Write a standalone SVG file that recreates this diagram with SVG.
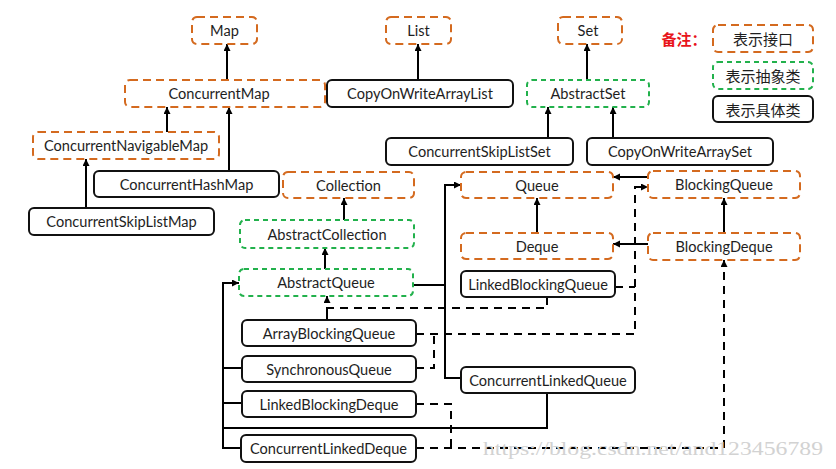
<svg xmlns="http://www.w3.org/2000/svg" width="836" height="469" viewBox="0 0 836 469">
<defs>
<marker id="ah" markerUnits="userSpaceOnUse" markerWidth="8" markerHeight="8" refX="7" refY="3.5" orient="auto">
<path d="M0,0 L7,3.5 L0,7 z" fill="#000"/>
</marker>
</defs>
<style>
rect{stroke-width:2;fill:#fff}
.i{stroke:#D46A1F;stroke-dasharray:8 5}
.a{stroke:#22B14C;stroke-dasharray:5 4}
.c{stroke:#111}
text{font-family:Lato,"Open Sans","Noto Sans",sans-serif;font-size:14.6px;fill:#1e1e1e;text-anchor:middle;dominant-baseline:central}
.cjk{font-family:"Noto Sans CJK SC",sans-serif;font-size:15px}
.s{fill:none;stroke:#000;stroke-width:2}
.d{fill:none;stroke:#000;stroke-width:2;stroke-dasharray:8 6}
.m{marker-end:url(#ah)}
</style>
<rect width="836" height="469" fill="#fff" stroke="none"/>
<g id="connectors">
<path class="s m" d="M227,80 V44"/>
<path class="s m" d="M167,132 V107"/>
<path class="s m" d="M229,171 V107"/>
<path class="s m" d="M86,208 V159"/>
<path class="s m" d="M418,80 V44"/>
<path class="s m" d="M587,80 V44"/>
<path class="s m" d="M548,138 V107"/>
<path class="s m" d="M613,138 V107"/>
<path class="s m" d="M344,220 V198"/>
<path class="s m" d="M325,269 V248"/>
<path class="s m" d="M537,233 V198"/>
<path class="s m" d="M724,233 V198"/>
<path class="s m" d="M648,177 H613"/>
<path class="s m" d="M648,244 H613"/>
<path class="s" d="M413,285 H445"/>
<path class="s m" d="M461,378 H445 V185 H461"/>
<path class="s" d="M547,393 V428 H223"/>
<path class="s m" d="M241,448 H223 V283 H239"/>
<path class="s" d="M223,368 H242 M223,403 H242"/>
<path class="s" d="M327,320 V308"/>
<path class="d m" d="M547,297 V308 H327 V296"/>
<path class="d m" d="M416,334 H635 V187 H648"/>
<path class="d" d="M615,287 H635"/>
<path class="d" d="M416,368 H434 V334"/>
<path class="d" d="M416,404 H451 V448"/>
<path class="d m" d="M416,448 H724 V260"/>
</g>
<g id="n-map"><rect class="i" x="192" y="17" width="65" height="27" rx="5"/><text x="224.5" y="30.5">Map</text></g>
<g id="n-concurrentmap"><rect class="i" x="125" y="80" width="200" height="27" rx="5"/><text x="219" y="93.5">ConcurrentMap</text></g>
<g id="n-concurrentnavigablemap"><rect class="i" x="33" y="132" width="186" height="27" rx="5"/><text x="126" y="145.5">ConcurrentNavigableMap</text></g>
<g id="n-concurrenthashmap"><rect class="c" x="94" y="171" width="185" height="26" rx="5"/><text x="186.5" y="184">ConcurrentHashMap</text></g>
<g id="n-concurrentskiplistmap"><rect class="c" x="29" y="208" width="185" height="27" rx="5"/><text x="121.5" y="221.5">ConcurrentSkipListMap</text></g>
<g id="n-list"><rect class="i" x="386" y="17" width="65" height="27" rx="5"/><text x="418.5" y="30.5">List</text></g>
<g id="n-copyonwritearraylist"><rect class="c" x="327" y="80" width="186" height="27" rx="5"/><text x="420" y="93.5">CopyOnWriteArrayList</text></g>
<g id="n-set"><rect class="i" x="558" y="17" width="64" height="27" rx="5"/><text x="588" y="30.5">Set</text></g>
<g id="n-abstractset"><rect class="a" x="527" y="80" width="122" height="27" rx="5"/><text x="588" y="93.5">AbstractSet</text></g>
<g id="n-concurrentskiplistset"><rect class="c" x="386" y="138" width="187" height="27" rx="5"/><text x="479.5" y="151.5">ConcurrentSkipListSet</text></g>
<g id="n-copyonwritearrayset"><rect class="c" x="587" y="138" width="186" height="27" rx="5"/><text x="680" y="151.5">CopyOnWriteArraySet</text></g>
<g id="n-collection"><rect class="i" x="283" y="172" width="131" height="26" rx="5"/><text x="348.5" y="185">Collection</text></g>
<g id="n-abstractcollection"><rect class="a" x="240" y="220" width="174" height="28" rx="5"/><text x="327" y="234">AbstractCollection</text></g>
<g id="n-abstractqueue"><rect class="a" x="239" y="269" width="174" height="27" rx="5"/><text x="326" y="282.5">AbstractQueue</text></g>
<g id="n-queue"><rect class="i" x="461" y="172" width="152" height="26" rx="5"/><text x="537" y="185">Queue</text></g>
<g id="n-deque"><rect class="i" x="461" y="233" width="152" height="26" rx="5"/><text x="537" y="246">Deque</text></g>
<g id="n-blockingqueue"><rect class="i" x="648" y="171" width="152" height="27" rx="5"/><text x="724" y="184.5">BlockingQueue</text></g>
<g id="n-blockingdeque"><rect class="i" x="648" y="233" width="152" height="27" rx="5"/><text x="724" y="246.5">BlockingDeque</text></g>
<g id="n-linkedblockingqueue"><rect class="c" x="461" y="271" width="154" height="26" rx="5"/><text x="538" y="284">LinkedBlockingQueue</text></g>
<g id="n-concurrentlinkedqueue"><rect class="c" x="461" y="367" width="174" height="26" rx="5"/><text x="548" y="380">ConcurrentLinkedQueue</text></g>
<g id="n-arrayblockingqueue"><rect class="c" x="242" y="320" width="174" height="26" rx="5"/><text x="329" y="333">ArrayBlockingQueue</text></g>
<g id="n-synchronousqueue"><rect class="c" x="242" y="356" width="174" height="26" rx="5"/><text x="329" y="369">SynchronousQueue</text></g>
<g id="n-linkedblockingdeque"><rect class="c" x="242" y="391" width="174" height="26" rx="5"/><text x="329" y="404">LinkedBlockingDeque</text></g>
<g id="n-concurrentlinkeddeque"><rect class="c" x="241" y="435" width="175" height="27" rx="5"/><text x="328.5" y="448.5">ConcurrentLinkedDeque</text></g>
<g id="legend">
<text class="cjk" x="684" y="38" style="fill:#E8141B;font-weight:bold">备注：</text>
<rect class="i" x="713" y="25" width="100" height="27" rx="5"/><text class="cjk" x="763" y="38.5">表示接口</text>
<rect class="a" x="713" y="62" width="100" height="27" rx="5"/><text class="cjk" x="763" y="75.5">表示抽象类</text>
<rect class="c" x="713" y="96" width="100" height="26" rx="5"/><text class="cjk" x="763" y="109">表示具体类</text>
</g>
<text x="483" y="455" textLength="340" lengthAdjust="spacingAndGlyphs" style="font-family:'Liberation Serif',serif;font-size:19px;fill:#d2d2d2;text-anchor:start;dominant-baseline:auto">https://blog.csdn.net/and123456789</text>
</svg>
